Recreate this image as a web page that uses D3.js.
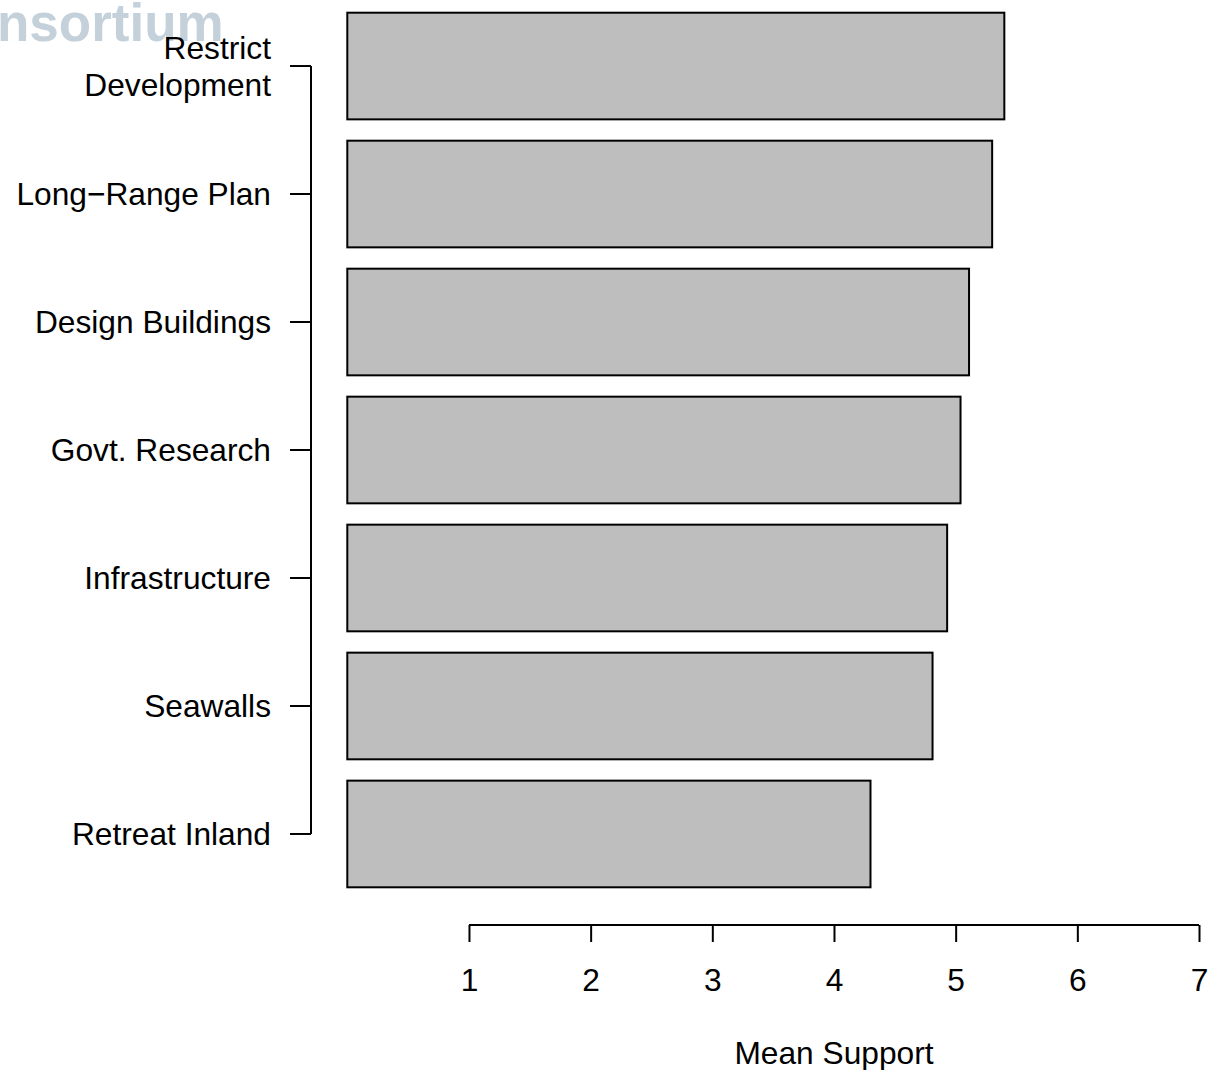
<!DOCTYPE html>
<html>
<head>
<meta charset="utf-8">
<script src="https://cdn.jsdelivr.net/npm/d3@7"></script>
<style>
  html, body { margin: 0; padding: 0; background: #ffffff; }
  svg { display: block; }
  text { font-family: "Liberation Sans", Arial, Helvetica, sans-serif; fill: #000; }
</style>
</head>
<body>
<svg id="chart" width="1211" height="1070"></svg>
<script>
// Adaptation measures, top to bottom, with their mean support scores
const measures = [
  ["Restrict", "Development"],
  ["Long\u2212Range Plan"],
  ["Design Buildings"],
  ["Govt. Research"],
  ["Infrastructure"],
  ["Seawalls"],
  ["Retreat Inland"]
];
const meanSupport = [5.40, 5.30, 5.11, 5.04, 4.93, 4.81, 4.30];
const xTicks = [1, 2, 3, 4, 5, 6, 7];
const xTitle = "Mean Support";
const bannerText = "nsortium";

const svg = d3.select("#chart");
const ids = measures.map((d, i) => i);
const fontSize = "31.7px";

// Horizontal value scale: 0 sits at the bars' left edge
const x = d3.scaleLinear().domain([0, 7]).range([347.3, 1199]);
// Category bands, one bar per measure with R-style spacing
const y = d3.scaleBand().domain(ids).range([12.7, 887.3]).paddingInner(1 / 6).paddingOuter(0);

// Faded banner text at top-left
svg.append("text")
  .attr("x", -3).attr("y", 41)
  .style("font-family", "'Liberation Sans', Arial, sans-serif")
  .style("font-weight", "bold")
  .style("font-size", "53px")
  .style("fill", "#c4d1da")
  .text(bannerText);

// Bars
svg.append("g").selectAll("rect")
  .data(ids)
  .join("rect")
  .attr("x", x(0))
  .attr("y", i => y(i))
  .attr("width", i => x(meanSupport[i]) - x(0))
  .attr("height", y.bandwidth())
  .attr("fill", "#bebebe")
  .attr("stroke", "#000")
  .attr("stroke-width", 2);

// Left category axis
const yAxisG = svg.append("g")
  .attr("transform", "translate(311,0)")
  .call(d3.axisLeft(y).tickSize(21).tickPadding(19).tickFormat(() => ""));
yAxisG.select(".domain").remove();
yAxisG.selectAll(".tick line").attr("stroke", "#000").attr("stroke-width", 2);
yAxisG.append("line")
  .attr("x1", 0).attr("x2", 0)
  .attr("y1", y(0) + y.bandwidth() / 2)
  .attr("y2", y(ids.length - 1) + y.bandwidth() / 2)
  .attr("stroke", "#000").attr("stroke-width", 2);
yAxisG.selectAll(".tick").each(function (i) {
  const lines = measures[i];
  const lh = 37;
  const t = d3.select(this).select("text")
    .attr("x", -40)
    .attr("dy", null)
    .attr("y", 0)
    .style("font-size", fontSize)
    .attr("text-anchor", "end");
  t.selectAll("tspan")
    .data(lines)
    .join("tspan")
    .attr("x", -40)
    .attr("y", (d, k) => (k - (lines.length - 1) / 2) * lh + 11)
    .text(d => d);
});

// Bottom value axis
const xAxisG = svg.append("g")
  .attr("transform", "translate(0,925)")
  .call(d3.axisBottom(x).tickValues(xTicks).tickSize(17).tickPadding(0).tickFormat(d3.format("d")));
xAxisG.select(".domain").remove();
xAxisG.selectAll(".tick line").attr("stroke", "#000").attr("stroke-width", 2);
xAxisG.append("line")
  .attr("x1", x(xTicks[0])).attr("x2", x(xTicks[xTicks.length - 1]))
  .attr("y1", 0).attr("y2", 0)
  .attr("stroke", "#000").attr("stroke-width", 2);
xAxisG.selectAll(".tick text")
  .attr("dy", null)
  .attr("y", 66)
  .style("font-size", fontSize);

// Axis title
svg.append("text")
  .attr("x", (x(xTicks[0]) + x(xTicks[xTicks.length - 1])) / 2)
  .attr("y", 1064)
  .attr("text-anchor", "middle")
  .style("font-size", fontSize)
  .text(xTitle);
</script>
</body>
</html>
